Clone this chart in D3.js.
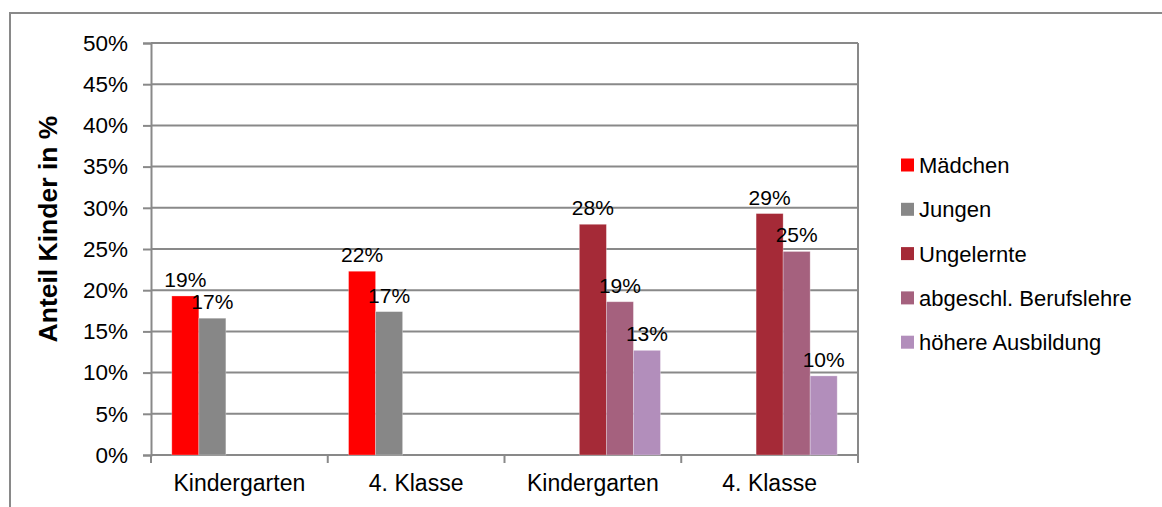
<!DOCTYPE html>
<html>
<head>
<meta charset="utf-8">
<script src="https://cdn.jsdelivr.net/npm/d3@7"></script>
<style>
    body { margin: 0; background: #fff; }
    text { font-family: "Liberation Sans", Arial, sans-serif; fill: #000; }
</style>
</head>
<body>
<svg id="chart" width="1162" height="507"></svg>
<script>
// categories on the x axis (two groups of two)
const categories = ["Kindergarten", "4. Klasse", "Kindergarten", "4. Klasse"];

// series names, in legend order
const seriesNames = ["Mädchen", "Jungen", "Ungelernte", "abgeschl. Berufslehre", "höhere Ausbildung"];
const seriesColors = ["#ff0000", "#878787", "#a52a37", "#a5617e", "#b28ebb"];

// values in percent, one per category (null = no bar)
const maedchen = [19.3, 22.3, null, null];
const jungen = [16.6, 17.4, null, null];
const ungelernte = [null, null, 28.0, 29.3];
const berufslehre = [null, null, 18.6, 24.7];
const hoehere = [null, null, 12.7, 9.6];

const yTicks = [0, 5, 10, 15, 20, 25, 30, 35, 40, 45, 50];

let seriesValues = [maedchen, jungen, ungelernte, berufslehre, hoehere];

let svg = d3.select("#chart");

let margin = {left: 151, top: 43, right: 858, bottom: 455};
let grey = "#898989";

// outer frame (only top and left edges visible in the picture)
svg.append("path")
    .attr("d", "M10,520 L10,13 L1170,13")
    .attr("fill", "none")
    .attr("stroke", grey)
    .attr("stroke-width", 2);

/** Scales */
let x0 = d3.scaleBand()
    .domain(d3.range(categories.length))
    .range([margin.left, margin.right])
    .padding(0);

let x1 = d3.scaleBand()
    .domain(d3.range(seriesNames.length))
    .range([0, x0.bandwidth()])
    .paddingInner(0)
    .paddingOuter(0.77);

let y = d3.scaleLinear()
    .domain([0, 50])
    .range([margin.bottom, margin.top]);

// horizontal gridlines
svg.append("g")
    .selectAll("line")
    .data(yTicks)
    .enter()
    .append("line")
    .attr("x1", margin.left)
    .attr("x2", margin.right)
    .attr("y1", d => y(d))
    .attr("y2", d => y(d))
    .attr("stroke", grey)
    .attr("stroke-width", 2);

// right border of plot
svg.append("line")
    .attr("x1", margin.right).attr("x2", margin.right)
    .attr("y1", margin.top).attr("y2", margin.bottom + 8)
    .attr("stroke", grey).attr("stroke-width", 2);

// y axis
let yAxis = d3.axisLeft(y)
    .tickValues(yTicks)
    .tickFormat(d => d + "%")
    .tickSize(8)
    .tickPadding(15);

let yG = svg.append("g")
    .attr("transform", "translate(" + margin.left + ",0)")
    .call(yAxis);
yG.select(".domain").attr("stroke", grey).attr("stroke-width", 2);
yG.selectAll(".tick line").attr("stroke", grey).attr("stroke-width", 2);
yG.selectAll(".tick text")
    .style("font-size", "22.5px")
    .attr("font-family", null);

// x axis: tick marks at category boundaries
let xBounds = d3.range(categories.length + 1).map(i => i < categories.length ? x0(i) : margin.right);
svg.append("g")
    .selectAll("line")
    .data(xBounds)
    .enter()
    .append("line")
    .attr("x1", d => d).attr("x2", d => d)
    .attr("y1", margin.bottom).attr("y2", margin.bottom + 8)
    .attr("stroke", grey).attr("stroke-width", 2);

svg.append("g")
    .selectAll("text")
    .data(categories)
    .enter()
    .append("text")
    .attr("x", (d, i) => x0(i) + x0.bandwidth() / 2)
    .attr("y", 491)
    .attr("text-anchor", "middle")
    .style("font-size", "23px")
    .text(d => d);

// bars
let bars = [];
seriesValues.forEach((vals, s) => {
    vals.forEach((v, c) => {
        if (v !== null) bars.push({s: s, c: c, v: v});
    });
});

let barG = svg.append("g");
barG.selectAll("rect")
    .data(bars)
    .enter()
    .append("rect")
    .attr("x", d => x0(d.c) + x1(d.s))
    .attr("width", x1.bandwidth())
    .attr("y", d => y(d.v))
    .attr("height", d => y(0) - y(d.v))
    .attr("fill", d => seriesColors[d.s])
    .attr("stroke", "rgba(255,255,255,0.35)")
    .attr("stroke-width", 0.8);

// data labels
barG.selectAll("text")
    .data(bars)
    .enter()
    .append("text")
    .attr("x", d => x0(d.c) + x1(d.s) + x1.bandwidth() / 2)
    .attr("y", d => y(d.v) - 9)
    .attr("text-anchor", "middle")
    .style("font-size", "21px")
    .text(d => Math.round(d.v) + "%");

// y axis title
svg.append("text")
    .attr("transform", "translate(57,229) rotate(-90)")
    .attr("text-anchor", "middle")
    .style("font-size", "26.5px")
    .style("font-weight", "bold")
    .text("Anteil Kinder in %");

// legend
let legend = svg.append("g")
    .selectAll("g")
    .data(seriesNames)
    .enter()
    .append("g")
    .attr("transform", (d, i) => "translate(901," + (165 + i * 44.3) + ")");

legend.append("rect")
    .attr("x", 0).attr("y", -6.5)
    .attr("width", 13).attr("height", 13)
    .attr("fill", (d, i) => seriesColors[i]);

legend.append("text")
    .attr("x", 18)
    .attr("y", 0)
    .attr("dy", "0.36em")
    .style("font-size", "22px")
    .text(d => d);
</script>
</body>
</html>
